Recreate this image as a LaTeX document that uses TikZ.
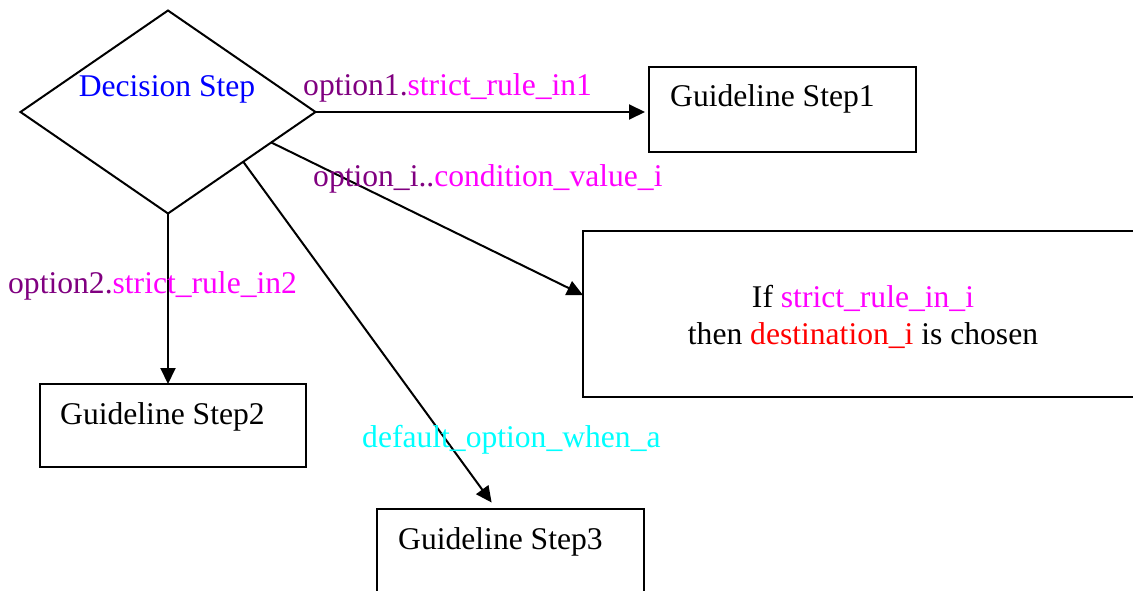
\documentclass[tikz,border=0pt]{standalone}
\usepackage{fontspec}
\setmainfont{Liberation Serif}
\usetikzlibrary{shapes.geometric,arrows.meta,calc}
\definecolor{optpurple}{RGB}{128,0,128}
\definecolor{rulemag}{RGB}{255,0,255}
\definecolor{destred}{RGB}{255,0,0}
\definecolor{decblue}{RGB}{0,0,255}
\definecolor{defcyan}{RGB}{0,255,255}

\begin{document}
\begin{tikzpicture}[x=1pt,y=-1pt,
  every node/.style={font=\fontsize{31.6}{37}\selectfont},
  shapebox/.style={draw,line width=2pt,rectangle,inner sep=0pt,outer sep=0pt,anchor=north west},
  txt/.style={inner sep=0pt,anchor=base west},
  flow/.style={draw,line width=2pt,-{Triangle[length=16pt,width=15pt]}}]
\useasboundingbox (0,0) rectangle (1133,591);

% decision diamond
\node[draw,diamond,line width=2pt,inner sep=0pt,outer sep=0pt,
      minimum width=295pt,minimum height=203pt] (dec) at (168,112) {};
\node[txt,anchor=base,text=decblue] (dectxt) at (167,97) {Decision Step};

% guideline steps
\node[shapebox,minimum width=267pt,minimum height=85pt] (g1) at (649,67) {};
\node[txt] (g1txt) at (670,107) {Guideline Step1};
\node[shapebox,minimum width=266pt,minimum height=83pt] (g2) at (40,384) {};
\node[txt] (g2txt) at (60,424) {Guideline Step2};
\node[shapebox,minimum width=267pt,minimum height=100pt] (g3) at (377,509) {};
\node[txt] (g3txt) at (398,549) {Guideline Step3};
\node[shapebox,minimum width=570pt,minimum height=166pt] (gi) at (583,231) {};
\node[align=center,inner sep=0pt,anchor=base] (gitxt) at (863,344)
  {If \textcolor{rulemag}{strict\_rule\_in\_i}\\then \textcolor{destred}{destination\_i} is chosen};

% connectors
\coordinate (s2) at ($(dec.east)!0.3!(dec.south)$);
\coordinate (s4) at ($(dec.east)!0.49!(dec.south)$);
\coordinate (ti) at ($(gi.north west)!0.386!(gi.south west)$);
\coordinate (t3) at ($(g3.north west)!0.447!(g3.north east)$);

\draw[flow,shorten >=4pt] (dec.east) -- (dec.east -| g1.west);
\draw[flow] (s2) -- (ti);
\draw[flow] (dec.south) -- (dec.south |- g2.north);
\draw[flow,shorten >=8pt] (s4) -- (t3);

% connector labels
\node[txt,text=optpurple] (l1) at (303,96) {option1.\textcolor{rulemag}{strict\_rule\_in1}};
\node[txt,text=optpurple] (l2) at (313,186) {option\_i..\textcolor{rulemag}{condition\_value\_i}};
\node[txt,text=optpurple] (l3) at (8,293) {option2.\textcolor{rulemag}{strict\_rule\_in2}};
\node[txt,text=defcyan] (l4) at (362,447) {default\_option\_when\_a};
\end{tikzpicture}
\end{document}
